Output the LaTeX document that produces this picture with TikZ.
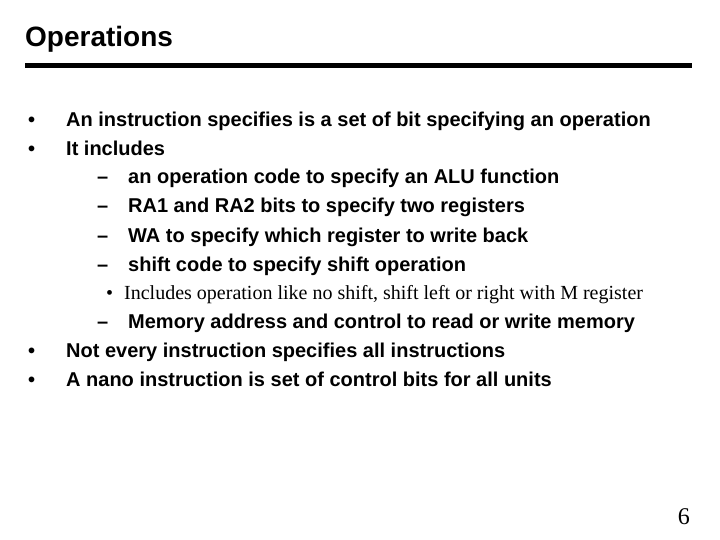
\documentclass[tikz,border=0pt]{standalone}
\usepackage{fontspec}
\setmainfont{Liberation Serif}
\setsansfont{Liberation Sans}
\begin{document}
\begin{tikzpicture}[x=1pt,y=-1pt,
  t/.style={anchor=base west,inner sep=0pt,font=\sffamily\bfseries\fontsize{20}{22}\selectfont},
  s/.style={anchor=base west,inner sep=0pt,font=\rmfamily\fontsize{20}{22}\selectfont}]
\useasboundingbox (0,0) rectangle (720,540);
\node[anchor=base west,inner sep=0pt,font=\sffamily\bfseries\fontsize{28}{30}\selectfont] (title) at (25,47) {Operations};
\coordinate (r1) at (25,66); \coordinate (r2) at (692,66);
\draw[line width=5pt] (r1) -- (r2);
\node[t] (b1) at (28,127) {•}; \node[t] (l1) at (66,127) {An instruction specifies is a set of bit specifying an operation};
\node[t] (b2) at (28,156) {•}; \node[t] (l2) at (66,156) {It includes};
\node[t] (d1) at (97,184) {–}; \node[t] (l3) at (128,184) {an operation code to specify an ALU function};
\node[t] (d2) at (97,213) {–}; \node[t] (l4) at (128,213) {RA1 and RA2 bits to specify two registers};
\node[t] (d3) at (97,242) {–}; \node[t] (l5) at (128,242) {WA to specify which register to write back};
\node[t] (d4) at (97,271) {–}; \node[t] (l6) at (128,271) {shift code to specify shift operation};
\node[s] (e1) at (106,299) {•}; \node[s] (l7) at (124,299) {Includes operation like no shift, shift left or right with M register};
\node[t] (d5) at (97,328) {–}; \node[t] (l8) at (128,328) {Memory address and control to read or write memory};
\node[t] (b3) at (28,357) {•}; \node[t] (l9) at (66,357) {Not every instruction specifies all instructions};
\node[t] (b4) at (28,386) {•}; \node[t] (l10) at (66,386) {A nano instruction is set of control bits for all units};
\node[anchor=base east,inner sep=0pt,font=\rmfamily\fontsize{24}{26}\selectfont] (pg) at (690,524) {6};
\end{tikzpicture}
\end{document}
